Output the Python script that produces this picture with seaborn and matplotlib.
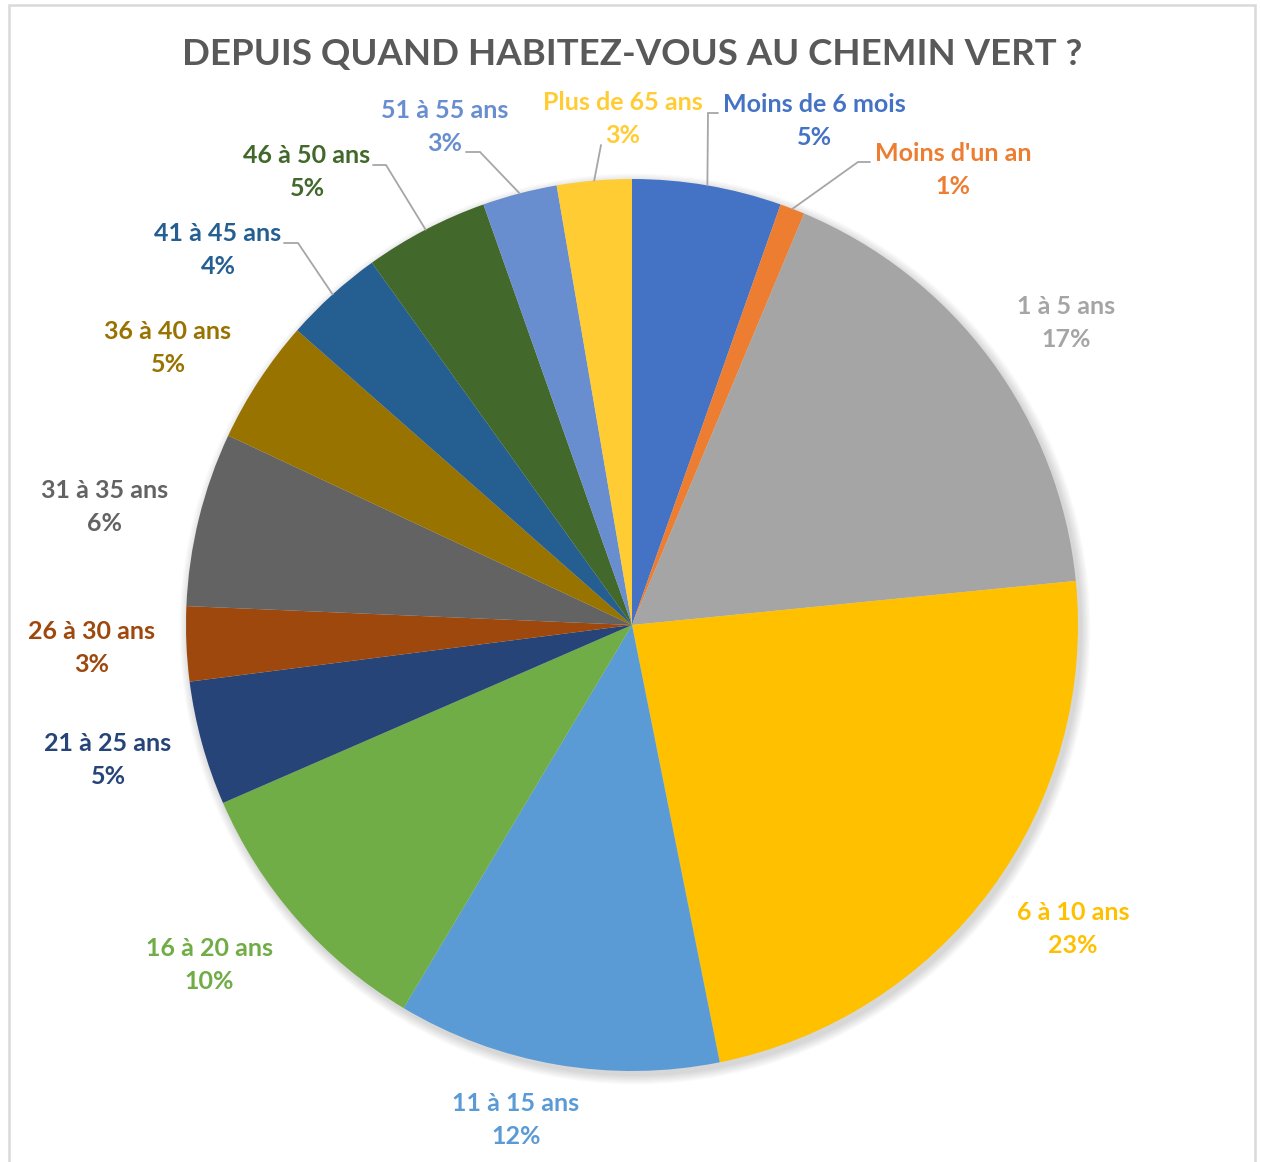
import numpy as np
import seaborn as sns
import matplotlib.pyplot as plt
from matplotlib.patches import Rectangle, Circle

# data
categories = ["Moins de 6 mois", "Moins d'un an", "1 à 5 ans", "6 à 10 ans",
              "11 à 15 ans", "16 à 20 ans", "21 à 25 ans", "26 à 30 ans",
              "31 à 35 ans", "36 à 40 ans", "41 à 45 ans", "46 à 50 ans",
              "51 à 55 ans", "Plus de 65 ans"]
counts = [6, 1, 19, 26, 13, 11, 5, 3, 7, 5, 4, 5, 3, 3]
colors = ["#4472C4", "#ED7D31", "#A5A5A5", "#FFC000", "#5B9BD5", "#70AD47",
          "#264478", "#9E480E", "#636363", "#997300", "#255E91", "#43682B",
          "#698ED0", "#FFCD33"]
title = "DEPUIS QUAND HABITEZ-VOUS AU CHEMIN VERT ?"

# layout (pixel coords, top-left origin)
W, H = 1261, 1162
CX, CY, R = 632, 625, 446
label_xy = {
    "Moins de 6 mois": (814, 121), "Moins d'un an": (953, 170),
    "1 à 5 ans": (1066, 323), "6 à 10 ans": (1073, 929),
    "11 à 15 ans": (516, 1120), "16 à 20 ans": (209, 965),
    "21 à 25 ans": (108, 760), "26 à 30 ans": (92, 648),
    "31 à 35 ans": (105, 507), "36 à 40 ans": (168, 348),
    "41 à 45 ans": (218, 250), "46 à 50 ans": (307, 172),
    "51 à 55 ans": (445, 127), "Plus de 65 ans": (623, 119),
}
# leader lines: elbow point, end point
leaders = {
    "Moins de 6 mois": ((708, 113), (718, 113)),
    "Moins d'un an": ((858, 162), (870, 162)),
    "Plus de 65 ans": ((601, 145), (601, 145)),
    "51 à 55 ans": ((480, 152), (466, 152)),
    "46 à 50 ans": ((386, 165), (373, 165)),
    "41 à 45 ans": ((298, 243), (284, 243)),
}


def px(x, y):
    return x, H - y


sns.set_theme(style="white")
plt.rcParams['font.family'] = ['Lato', 'DejaVu Sans']

fig = plt.figure(figsize=(W / 100, H / 100), dpi=100)
ax = fig.add_axes([0, 0, 1, 1])

# soft shadow behind the pie
for i in range(8):
    ax.add_patch(Circle(px(CX + 3, CY + 4), R + 1 + i * 1.2, color="black",
                        alpha=0.018, lw=0, zorder=0))

wedges, _ = ax.pie(counts, colors=colors, startangle=90, counterclock=False,
                   center=px(CX, CY), radius=R, wedgeprops={"linewidth": 0})

total = sum(counts)
cum = np.cumsum([0] + counts)
for i, (name, c) in enumerate(zip(categories, counts)):
    pct = round(100 * c / total)
    tx, ty = label_xy[name]
    ax.text(*px(tx, ty), f"{name}\n{pct}%", ha="center", va="center",
            fontsize=18, fontweight="bold", color=colors[i], linespacing=1.5)
    if name in leaders:
        mid = (cum[i] + cum[i + 1]) / 2 / total * 2 * np.pi
        sx, sy = CX + R * np.sin(mid), CY - R * np.cos(mid)
        (ex, ey), (fx, fy) = leaders[name]
        ax.plot([px(sx, sy)[0], px(ex, ey)[0], px(fx, fy)[0]],
                [px(sx, sy)[1], px(ex, ey)[1], px(fx, fy)[1]],
                color="#A6A6A6", lw=1.3, solid_joinstyle="miter")

ax.text(*px(632, 54), title, ha="center", va="center", fontsize=26.4,
        fontweight="bold", color="#595959")

# chart frame
ax.add_patch(Rectangle(px(9, 1170), 1246, 1165, fill=False, ec="#D9D9D9", lw=1.8))

ax.set_xlim(0, W)
ax.set_ylim(0, H)
ax.set_aspect("equal")
ax.axis("off")

fig.savefig("out.png", dpi=100)
